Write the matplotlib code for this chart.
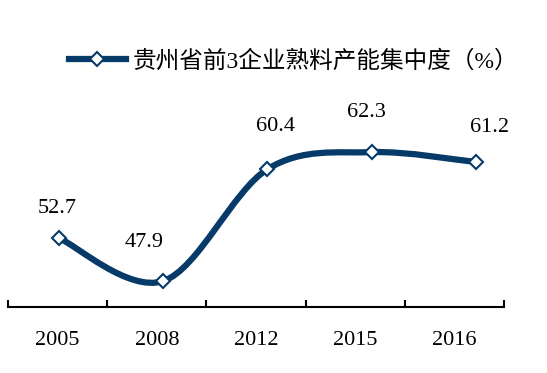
import matplotlib
matplotlib.use("Agg")
import matplotlib.pyplot as plt
from matplotlib.path import Path
from matplotlib.patches import PathPatch
from matplotlib.lines import Line2D

years = ["2005", "2008", "2012", "2015", "2016"]
share = [52.7, 47.9, 60.4, 62.3, 61.2]
series_name = "贵州省前3企业熟料产能集中度（%）"

# label offsets in pixels (dx, dy) relative to each marker
label_offsets = [(-2, 30), (-19, 39), (8, 43), (-5, 40), (14, 35)]

navy = "#063a68"
plt.rcParams["font.family"] = ["Liberation Serif", "Noto Sans CJK SC"]

W, H = 547, 373
fig = plt.figure(figsize=(W / 100, H / 100), dpi=100)
ax = fig.add_axes([8 / W, (H - 307) / H, 496 / W, 179 / H])

n = len(years)
ax.set_xlim(-0.5, n - 0.5)
ax.set_ylim(45, 65)
for s in ["top", "left", "right"]:
    ax.spines[s].set_visible(False)
ax.spines["bottom"].set_linewidth(1.5)
ax.set_yticks([])
ax.set_xticks([i - 0.5 for i in range(n + 1)])
ax.set_xticklabels([])
ax.set_xticks(range(n), minor=True)
ax.set_xticklabels(years, minor=True, fontsize=16)
ax.tick_params(axis="x", which="major", direction="in", length=5, width=1.5)
ax.tick_params(axis="x", which="minor", length=0, pad=17)

# the line sits on its own slightly wider x scale, like the original
ax2 = ax.twiny()
ax2.set_xlim(-0.49, 4.27)
ax2.set_ylim(45, 65)
ax2.axis("off")

xs = list(range(n))
pts = list(zip(xs, share))
verts = [pts[0]]
codes = [Path.MOVETO]
for i in range(n - 1):
    p0 = pts[max(i - 1, 0)]
    p1 = pts[i]
    p2 = pts[i + 1]
    p3 = pts[min(i + 2, n - 1)]
    c1 = (p1[0] + (p2[0] - p0[0]) / 6, p1[1] + (p2[1] - p0[1]) / 6)
    c2 = (p2[0] - (p3[0] - p1[0]) / 6, p2[1] - (p3[1] - p1[1]) / 6)
    verts += [c1, c2, p2]
    codes += [Path.CURVE4] * 3
ax2.add_patch(PathPatch(Path(verts, codes), fill=False, edgecolor=navy,
                        lw=4.5, capstyle="round", joinstyle="round"))
ax2.plot(xs, share, ls="none", marker="D", ms=7, mfc="white", mec=navy, mew=1.5)

for x, v, (dx, dy) in zip(xs, share, label_offsets):
    ax2.annotate(f"{v:.1f}", (x, v), xytext=(dx, dy), textcoords="offset pixels",
                 ha="center", va="center", fontsize=16)

handle = Line2D([], [], color=navy, lw=4.5, marker="D", ms=7,
                mfc="white", mec=navy, mew=1.5)
fig.legend([handle], [series_name], loc="center left",
           bbox_to_anchor=(69 / W, 1 - 61 / H), frameon=False, fontsize=17,
           handlelength=2.4, handletextpad=0.3, borderpad=0, borderaxespad=0)

fig.savefig("out.png", dpi=100)
